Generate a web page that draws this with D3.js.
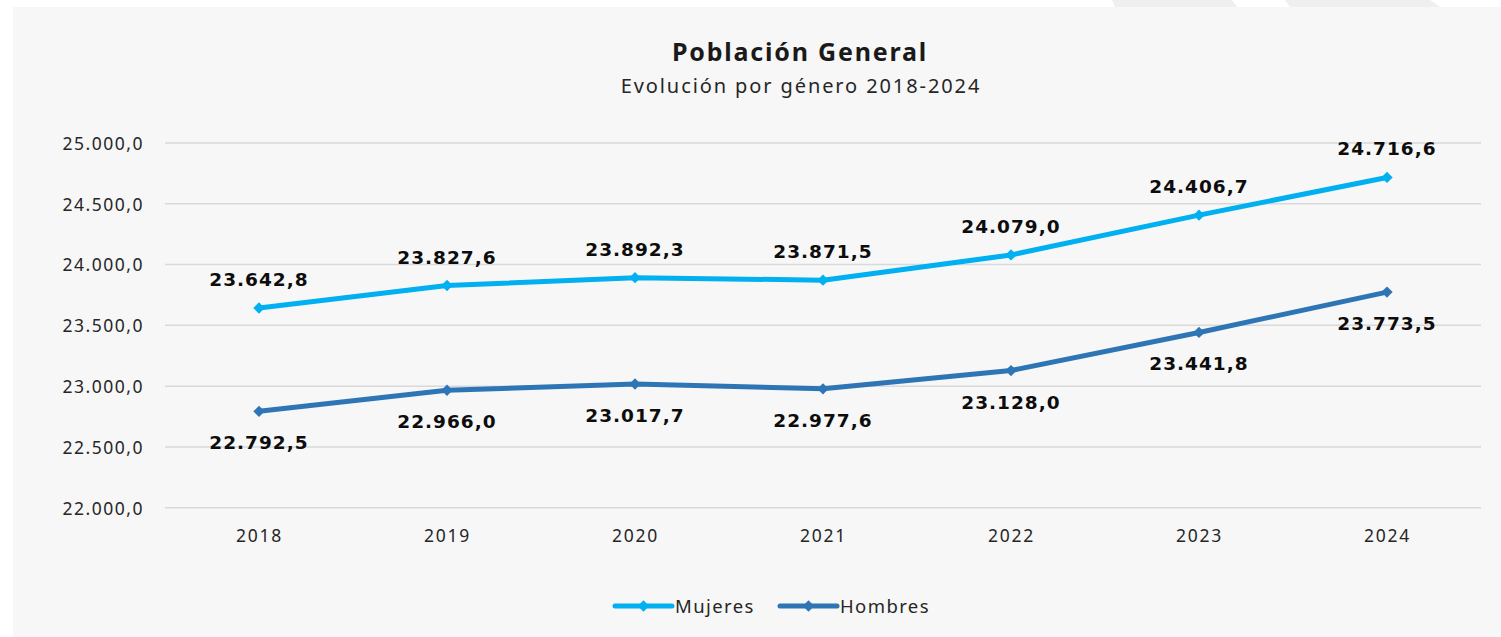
<!DOCTYPE html>
<html>
<head>
<meta charset="utf-8">
<script src="https://cdn.jsdelivr.net/npm/d3@7"></script>
<style>
  html, body { margin: 0; padding: 0; background: #ffffff; }
  svg { display: block; }
</style>
</head>
<body>
<svg id="chart" width="1501" height="637"></svg>
<script>
// ---- Data ----
const years = ["2018", "2019", "2020", "2021", "2022", "2023", "2024"];
const mujeres = [23642.8, 23827.6, 23892.3, 23871.5, 24079.0, 24406.7, 24716.6];
const hombres = [22792.5, 22966.0, 23017.7, 22977.6, 23128.0, 23441.8, 23773.5];
const yTicks = [22000, 22500, 23000, 23500, 24000, 24500, 25000];
const seriesNames = ["Mujeres", "Hombres"];
const titleText = "Población General";
const subtitleText = "Evolución por género 2018-2024";

// ---- Layout ----
const W = 1501, H = 637;
const plot = { left: 165, right: 1481, top: 143, bottom: 507.7 };
const colors = { Mujeres: "#00b0f0", Hombres: "#2e75b6" };

const svg = d3.select("#chart");

// background panel + decoration
svg.append("rect").attr("x", 0).attr("y", 0).attr("width", W).attr("height", H).attr("fill", "#ffffff");
svg.append("path").attr("d", "M1112,0 L1232,0 L1237,7 L1115,7 Z").attr("fill", "#efefef");
svg.append("path").attr("d", "M1285,0 L1430,0 L1440,7 L1290,7 Z").attr("fill", "#efefef");
svg.append("rect").attr("x", 13).attr("y", 7).attr("width", W - 13).attr("height", H - 7).attr("fill", "#f7f7f7");

// scales
const x = d3.scalePoint().domain(years).range([plot.left, plot.right]).padding(0.5);
const y = d3.scaleLinear().domain([22000, 25000]).range([plot.bottom, plot.top]);

const fmt = v => {
  const s = d3.format(",.1f")(v);
  return s.replace(/,/g, "#").replace(".", ",").replace(/#/g, ".");
};

// gridlines
svg.append("g").selectAll("line").data(yTicks).join("line")
  .attr("x1", plot.left).attr("x2", plot.right)
  .attr("y1", d => y(d)).attr("y2", d => y(d))
  .attr("stroke", "#d9d9d9").attr("stroke-width", 1.5);

// y axis labels
const yAxis = d3.axisLeft(y).tickValues(yTicks).tickFormat(fmt).tickSize(0).tickPadding(21);
const yg = svg.append("g").attr("transform", `translate(${plot.left},0)`).call(yAxis);
yg.select(".domain").remove();
yg.selectAll("text").attr("font-family", "'Noto Sans', sans-serif").attr("font-size", 17.5)
  .attr("fill", "#262626").attr("letter-spacing", "1.5px").attr("dy", "0.36em");

// x axis labels
const xAxis = d3.axisBottom(x).tickSize(0).tickPadding(22);
const xg = svg.append("g").attr("transform", `translate(0,${plot.bottom})`).call(xAxis);
xg.select(".domain").remove();
xg.selectAll("text").attr("font-family", "'Noto Sans', sans-serif").attr("font-size", 17.5)
  .attr("fill", "#262626").attr("letter-spacing", "1.8px");

// title
svg.append("text").attr("x", 800).attr("y", 61).attr("text-anchor", "middle")
  .attr("font-family", "'Noto Sans', sans-serif").attr("font-weight", "bold").attr("font-size", 25)
  .attr("letter-spacing", "1.8px")
  .attr("fill", "#1a1a1a").text(titleText);
svg.append("text").attr("x", 801).attr("y", 93).attr("text-anchor", "middle")
  .attr("font-family", "'Noto Sans', sans-serif").attr("font-size", 20)
  .attr("letter-spacing", "1.9px")
  .attr("fill", "#262626").text(subtitleText);

// lines
const series = [
  { name: "Mujeres", values: mujeres, labelDy: years.map(() => -22) },
  { name: "Hombres", values: hombres, labelDy: years.map(() => 38) }
];
const line = d3.line().x((d, i) => x(years[i])).y(d => y(d));
const diamond = d3.symbol(d3.symbolSquare).size(64);

series.forEach(s => {
  const g = svg.append("g");
  g.append("path").datum(s.values).attr("d", line)
    .attr("fill", "none").attr("stroke", colors[s.name]).attr("stroke-width", 5)
    .attr("stroke-linejoin", "round");
  g.selectAll("path.mk").data(s.values).join("path").attr("class", "mk")
    .attr("d", diamond)
    .attr("transform", (d, i) => `translate(${x(years[i])},${y(d)}) rotate(45)`)
    .attr("fill", colors[s.name]);
  g.selectAll("text").data(s.values).join("text")
    .attr("x", (d, i) => x(years[i]))
    .attr("y", (d, i) => y(d) + s.labelDy[i])
    .attr("text-anchor", "middle")
    .attr("font-family", "'DejaVu Sans', sans-serif").attr("font-weight", "bold")
    .attr("font-size", 18.5).attr("fill", "#0d0d0d").attr("letter-spacing", "1px")
    .text(d => fmt(d));
});

// legend
const legendItems = [
  { name: "Mujeres", x0: 615 },
  { name: "Hombres", x0: 780 }
];
const ly = 606;
legendItems.forEach(it => {
  const g = svg.append("g");
  g.append("line").attr("x1", it.x0).attr("x2", it.x0 + 57).attr("y1", ly).attr("y2", ly)
    .attr("stroke", colors[it.name]).attr("stroke-width", 5).attr("stroke-linecap", "round");
  g.append("path").attr("d", diamond).attr("transform", `translate(${it.x0 + 28.5},${ly}) rotate(45)`)
    .attr("fill", colors[it.name]);
  g.append("text").attr("x", it.x0 + 60).attr("y", ly + 7)
    .attr("font-family", "'Noto Sans', sans-serif").attr("font-size", 18.5)
    .attr("letter-spacing", "1.4px")
    .attr("fill", "#262626").text(it.name);
});
</script>
</body>
</html>
